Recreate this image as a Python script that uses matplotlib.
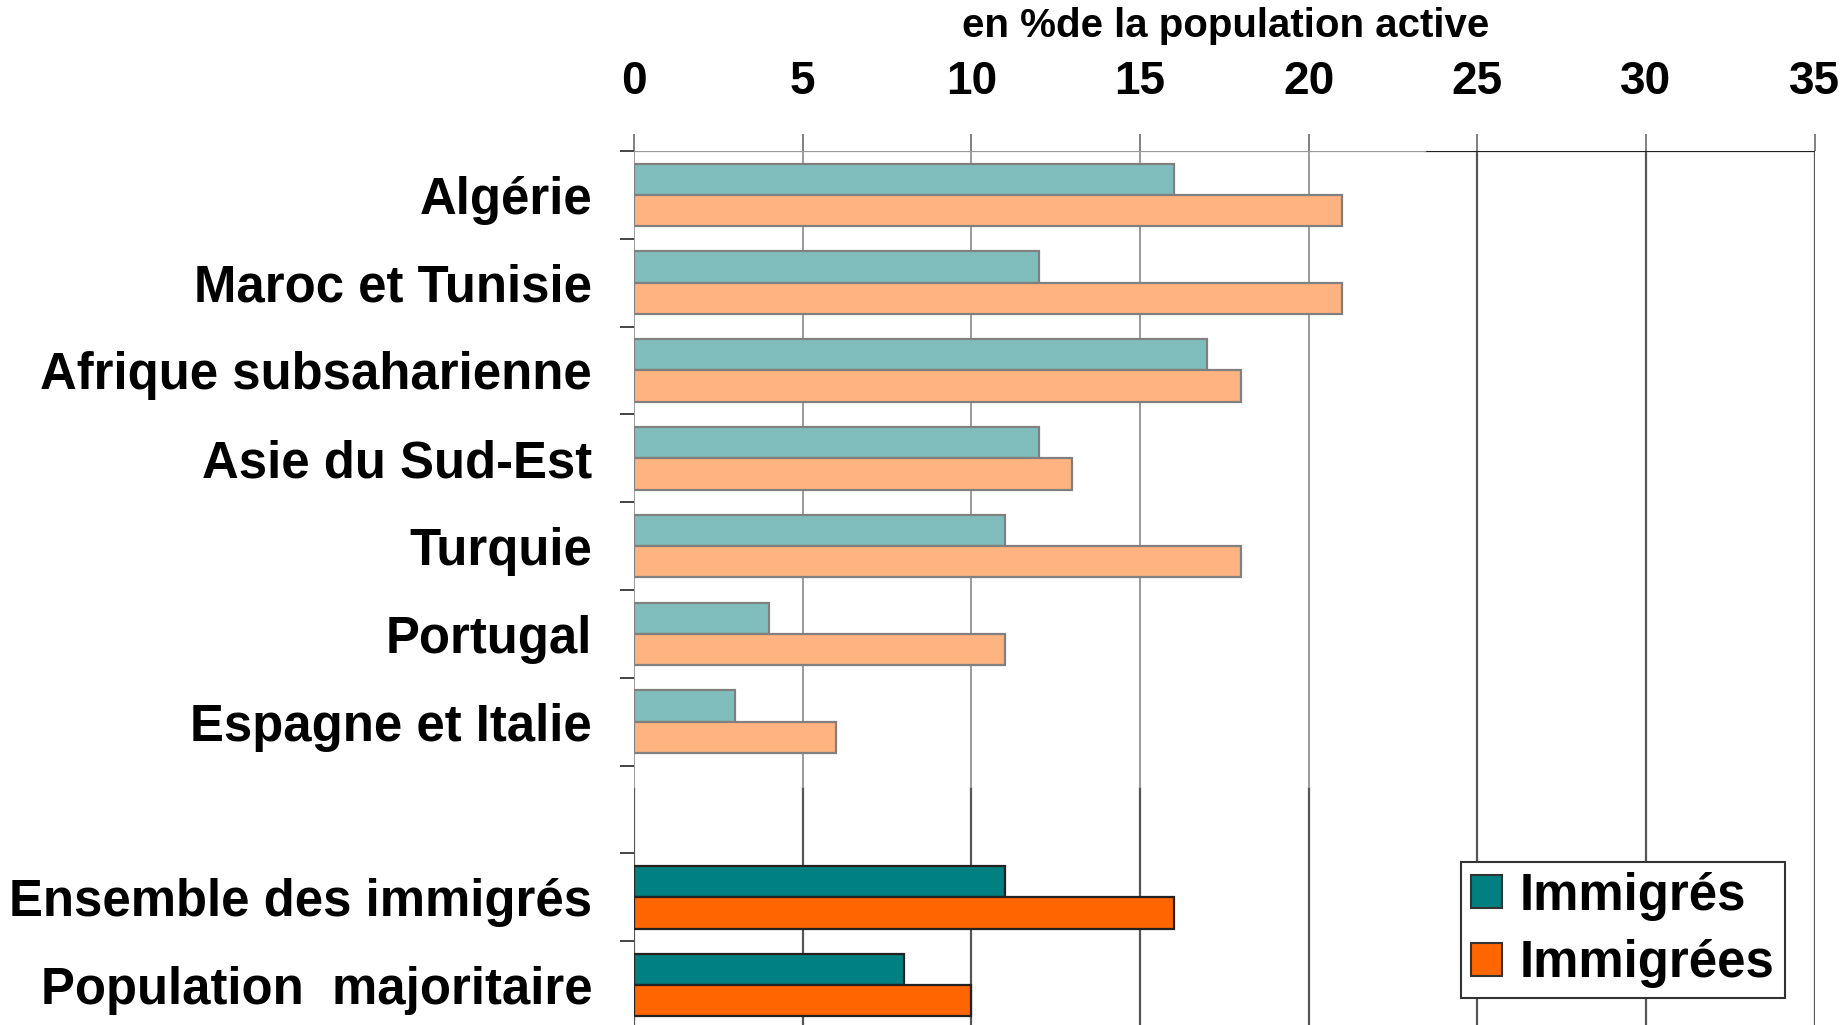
import matplotlib
matplotlib.use("Agg")
import matplotlib.pyplot as plt
from matplotlib.patches import Rectangle, Patch
from matplotlib.ticker import FixedLocator

categories = ["Algérie", "Maroc et Tunisie", "Afrique subsaharienne", "Asie du Sud-Est",
              "Turquie", "Portugal", "Espagne et Italie", "",
              "Ensemble des immigrés", "Population  majoritaire"]
immigres = [16, 12, 17, 12, 11, 4, 3, None, 11, 8]
immigrees = [21, 21, 18, 13, 18, 11, 6, None, 16, 10]
xticks = [0, 5, 10, 15, 20, 25, 30, 35]
series_labels = ["Immigrés", "Immigrées"]
xlabel = "en %de la population active"

BOLD = ["Liberation Sans", "DejaVu Sans"]

fig = plt.figure(figsize=(18.48, 10.25), dpi=100)
ax = fig.add_axes([0.343, -0.0039, 0.639, 0.8566])
ax.set_xlim(0, 35)
ax.set_ylim(9.5, -0.5)

# background grid (lower chart, dark)
for x in xticks:
    ax.axvline(x, color="#555555", lw=1.6, zorder=0.5)
ax.axhline(-0.5, color="#222222", lw=1.6, zorder=0.5)
# white overlay of upper chart area
ax.add_patch(Rectangle((0, -0.5), 23.44, 7.24, facecolor="white", edgecolor="none", zorder=0.8))
for x in xticks:
    if x <= 23.44:
        ax.plot([x, x], [-0.5, 6.74], color="#9a9a9a", lw=1.4, zorder=0.9)
ax.plot([0, 23.44], [-0.5, -0.5], color="#9a9a9a", lw=1.6, zorder=0.9)

h = 0.356
light = {"t": "#80BEBE", "o": "#FFB380", "e": "#808080"}
dark = {"t": "#008080", "o": "#FF6600", "e": "#222222"}
for i, (a, b) in enumerate(zip(immigres, immigrees)):
    if a is None:
        continue
    c = dark if i >= 8 else light
    ax.barh(i - h / 2, a, height=h, color=c["t"], edgecolor=c["e"], lw=1.6, zorder=2)
    ax.barh(i + h / 2, b, height=h, color=c["o"], edgecolor=c["e"], lw=1.6, zorder=2)

for s in ax.spines.values():
    s.set_visible(False)

ax.xaxis.tick_top()
ax.set_xticks(xticks)
ax.set_xticklabels([str(x) for x in xticks], fontfamily=BOLD, fontweight="bold", fontsize=33)
ax.tick_params(axis="x", which="major", length=12, width=1.4, color="#808080", pad=22)

ax.set_yticks(range(len(categories)))
ax.set_yticklabels(categories, fontfamily=BOLD, fontweight="bold", fontsize=36.6)
ax.tick_params(axis="y", which="major", length=0, pad=30)
ax.yaxis.set_minor_locator(FixedLocator([i - 0.5 for i in range(len(categories) + 1)]))
ax.tick_params(axis="y", which="minor", length=10, width=1.4, color="#444444")

fig.text(0.663, 0.975, xlabel, ha="center", va="center", fontfamily=BOLD,
         fontweight="bold", fontsize=29)

handles = [Patch(facecolor=dark["t"], edgecolor="#333333", lw=1.5),
           Patch(facecolor=dark["o"], edgecolor="#333333", lw=1.5)]
leg = ax.legend(handles, series_labels, loc="upper left",
                bbox_to_anchor=(1461 / 1848, 1 - 862 / 1025), bbox_transform=fig.transFigure,
                prop={"family": BOLD, "weight": "bold", "size": 36.6},
                handlelength=0.62, handleheight=0.62, handletextpad=0.35,
                borderpad=0.19, labelspacing=0.36, borderaxespad=0,
                fancybox=False, framealpha=1, edgecolor="#333333")
leg.get_frame().set_linewidth(1.5)
leg.set_zorder(5)

fig.savefig("out.png", dpi=100, facecolor="white")
